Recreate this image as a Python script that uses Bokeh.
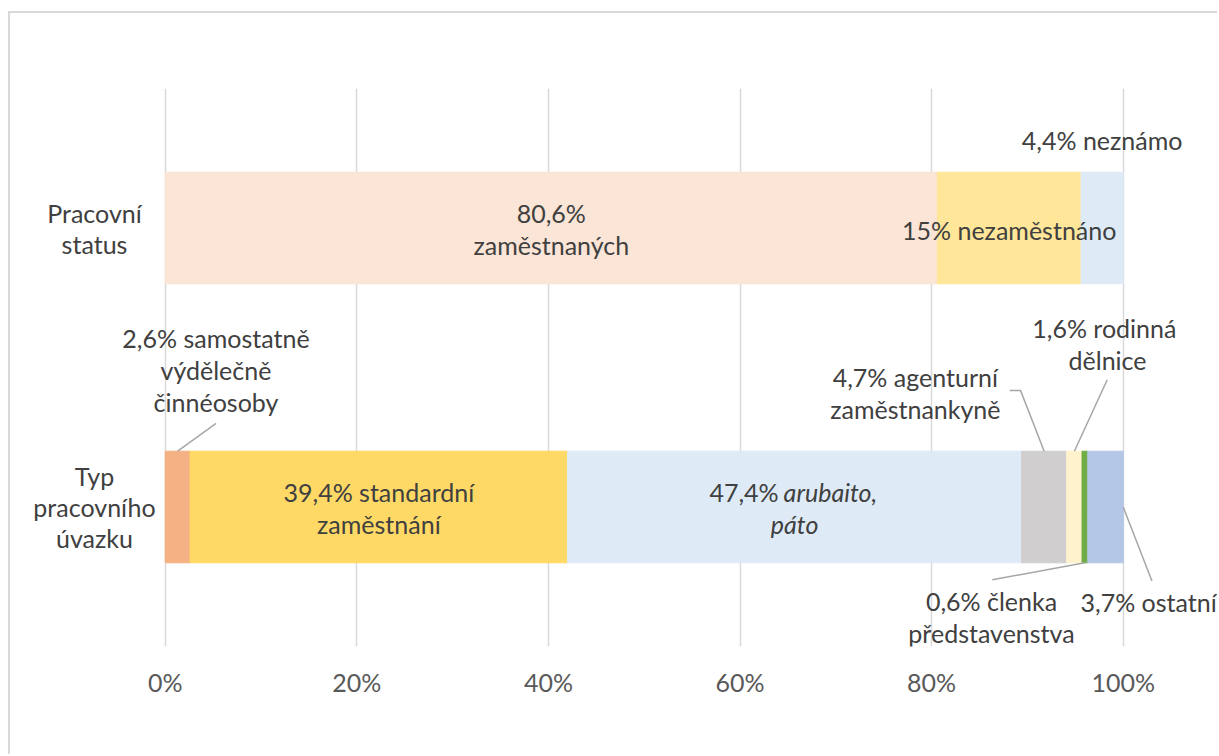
from bokeh.plotting import figure
from bokeh.models import ColumnDataSource, Range1d, FixedTicker
from bokeh.core.properties import value
from bokeh.embed import file_html
from bokeh.resources import INLINE

# ---------------- data ----------------
categories = ["Typ pracovního úvazku", "Pracovní status"]
category_lines = [["Typ", "pracovního", "úvazku"], ["Pracovní", "status"]]

status_labels = ["zaměstnaných", "nezaměstnáno", "neznámo"]
status_values = [80.6, 15.0, 4.4]
status_colors = ["#FBE5D6", "#FFE699", "#DEEBF7"]

contract_labels = ["samostatně výdělečně činné osoby", "standardní zaměstnání", "arubaito, páto",
                   "agenturní zaměstnankyně", "rodinná dělnice", "členka představenstva", "ostatní"]
contract_values = [2.6, 39.4, 47.4, 4.7, 1.6, 0.6, 3.7]
contract_colors = ["#F4B183", "#FFD966", "#DEEBF7", "#D0CECE", "#FFF2CC", "#70AD47", "#B4C7E7"]

ticks = [0, 20, 40, 60, 80, 100]
tick_labels = ["0%", "20%", "40%", "60%", "80%", "100%"]

# ---------------- style ----------------
FONT = value("Lato")
SIZE = value("25px")
TXT = "#404040"
LEADER = "#A6A6A6"
BAR_H = 0.4


def fmt(v):
    s = ("%.1f" % v).replace(".", ",")
    if s.endswith(",0"):
        s = s[:-2]
    return s + "%"


def stack(vals):
    lefts, rights, acc = [], [], 0.0
    for v in vals:
        lefts.append(acc)
        acc += v
        rights.append(acc)
    return lefts, rights


p = figure(width=1209, height=743, output_backend="svg", toolbar_location=None,
           x_range=Range1d(-15.94, 110.05), y_range=Range1d(0.5, 2.5),
           y_axis_location=None, min_border_left=2, min_border_right=0,
           min_border_top=75, min_border_bottom=110)
p.styles = {"margin-left": "8px", "margin-top": "11px",
            "border-left": "2px solid #D9D9D9", "border-top": "2px solid #D9D9D9"}
p.outline_line_color = None
p.background_fill_color = "white"
p.border_fill_color = "white"

# axis & grid
p.xaxis.ticker = FixedTicker(ticks=ticks)
p.xaxis.major_label_overrides = {t: l for t, l in zip(ticks, tick_labels)}
p.xaxis.axis_line_color = None
p.xaxis.major_tick_line_color = None
p.xaxis.minor_tick_line_color = None
p.xaxis.major_tick_out = 0
p.xaxis.major_tick_in = 0
p.xaxis.major_label_standoff = 20
p.xaxis.major_label_text_font = "Lato"
p.xaxis.major_label_text_font_size = "25px"
p.xaxis.major_label_text_color = "#595959"
p.xgrid.ticker = FixedTicker(ticks=ticks)
p.xgrid.grid_line_color = "#D9D9D9"
p.xgrid.grid_line_width = 1.5
p.ygrid.visible = False

# bars
rows = [(2, status_values, status_colors), (1, contract_values, contract_colors)]
for yv, vals, cols in rows:
    l, r = stack(vals)
    src = ColumnDataSource(dict(y=[yv] * len(vals), left=l, right=r, color=cols))
    p.hbar(y="y", left="left", right="right", height=BAR_H, color="color", source=src)

# -------- labels --------
s_l, s_r = stack(status_values)
c_l, c_r = stack(contract_values)
s_mid = [(a + b) / 2 for a, b in zip(s_l, s_r)]
c_mid = [(a + b) / 2 for a, b in zip(c_l, c_r)]

tx, ty, txt, xo, yo, al = [], [], [], [], [], []


def add(x, y, t, dx=0, dy=0, align="center"):
    tx.append(x); ty.append(y); txt.append(t); xo.append(dx); yo.append(dy); al.append(align)


# inside labels, Pracovní status
add(s_mid[0], 2, fmt(status_values[0]), 0, -15)
add(s_mid[0], 2, status_labels[0], 0, 16.5)
add(s_mid[1], 2, fmt(status_values[1]) + " " + status_labels[1], 0, 1.5)
# outside label above bar
add(s_mid[2], 2.314, fmt(status_values[2]) + " " + status_labels[2])

# inside labels, Typ pracovního úvazku
add(c_mid[1], 1, fmt(contract_values[1]) + " standardní", 0, -15)
add(c_mid[1], 1, "zaměstnání", 0, 17)
add(c_mid[2], 1, fmt(contract_values[2]), -16, -15, "right")

# callouts: (text lines, anchor x, anchor y)
callouts = [
    ([fmt(contract_values[0]) + " samostatně", "výdělečně", "činnéosoby"], 5.30, 1.491),
    ([fmt(contract_values[3]) + " agenturní", "zaměstnankyně"], 78.3, 1.409),
    ([fmt(contract_values[4]) + "  rodinná", "dělnice"], 98.36, 1.586),
    ([fmt(contract_values[5]) + " členka", "představenstva"], 86.25, 0.605),
    ([fmt(contract_values[6]) + " ostatní"], 102.65, 0.659),
]
LH = 32
for lines, ax, ay in callouts:
    n = len(lines)
    for i, t in enumerate(lines):
        add(ax, ay, t, 0, (i - (n - 1) / 2) * LH)

# category labels
for yv, lines in zip([1, 2], category_lines):
    n = len(lines)
    for i, t in enumerate(lines):
        add(-7.38, yv, t, 0, (i - (n - 1) / 2) * 31)

lab = ColumnDataSource(dict(x=tx, y=ty, text=txt, xo=xo, yo=yo, align=al))
p.text(x="x", y="y", text="text", x_offset="xo", y_offset="yo", text_align="align",
       text_baseline="middle", text_font=FONT, text_font_size=SIZE, text_color=TXT, source=lab)

# italic labels
ital = ColumnDataSource(dict(x=[c_mid[2], c_mid[2]], y=[1, 1], text=["arubaito,", "páto"],
                             xo=[-11, 0], yo=[-15, 17], align=["left", "center"]))
p.text(x="x", y="y", text="text", x_offset="xo", y_offset="yo", text_align="align",
       text_baseline="middle", text_font=FONT, text_font_size=SIZE, text_color=TXT,
       text_font_style="italic", source=ital)

# leader lines: start at label, end at the segment
top2 = 1 + BAR_H / 2
bot2 = 1 - BAR_H / 2
xs = [
    [5.31, c_mid[0]],
    [88.16, 89.28, c_mid[3]],
    [98.33, c_mid[4]],
    [86.33, c_mid[5]],
    [103.0, c_r[6]],
]
ys = [
    [1.300, top2],
    [1.418, 1.418, top2],
    [1.456, top2],
    [0.739, bot2],
    [0.735, 1.0],
]
p.multi_line(xs=xs, ys=ys, line_color=LEADER, line_width=1.5)

open("out.html", "w").write(file_html(p, INLINE))
